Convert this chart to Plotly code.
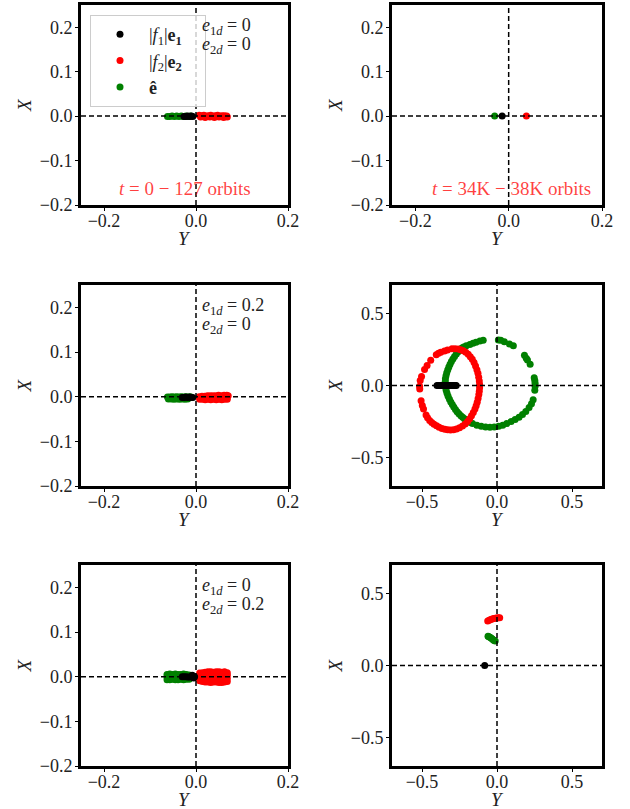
import plotly.graph_objects as go

# ---------------- data (Y, X) per panel ----------------
# panel 1: e1d = 0, e2d = 0, t = 0-127 orbits
p1_green_Y = [-0.062, -0.057, -0.052, -0.047, -0.042, -0.037, -0.032, -0.027, -0.022, -0.017, -0.012]
p1_green_X = [-0.001, -0.001, 0.000, -0.001, 0.000, -0.001, 0.000, -0.001, 0.000, -0.001, 0.000]
p1_black_Y = [-0.026, -0.022, -0.018, -0.014, -0.010, -0.007]
p1_black_X = [-0.001, -0.001, 0.000, -0.001, 0.000, -0.001]
p1_red_Y = [0.007, 0.012, 0.017, 0.022, 0.027, 0.032, 0.037, 0.042, 0.047, 0.052, 0.057, 0.062, 0.067,
            0.010, 0.020, 0.030, 0.040, 0.050, 0.060, 0.068]
p1_red_X = [0.002, 0.001, 0.002, 0.000, 0.001, 0.002, 0.000, 0.001, 0.002, 0.000, 0.001, 0.001, 0.000,
            -0.002, -0.003, -0.002, -0.003, -0.002, -0.003, -0.002]

# panel 2: e1d = 0, e2d = 0, t = 34K-38K orbits
p2_green_Y = [-0.030]
p2_green_X = [0.000]
p2_black_Y = [-0.014]
p2_black_X = [0.000]
p2_red_Y = [0.038]
p2_red_X = [0.000]

# panel 3: e1d = 0.2, e2d = 0
p3_green_Y = [-0.062, -0.057, -0.052, -0.047, -0.042, -0.037, -0.032, -0.027, -0.022, -0.017, -0.012,
              -0.060, -0.054, -0.048, -0.042, -0.036, -0.030, -0.024, -0.018]
p3_green_X = [-0.001, -0.001, 0.000, -0.001, 0.000, -0.001, 0.000, -0.001, 0.000, -0.001, 0.000,
              -0.005, -0.005, -0.006, -0.005, -0.006, -0.005, -0.006, -0.005]
p3_black_Y = [-0.030, -0.026, -0.022, -0.018, -0.014, -0.010, -0.007]
p3_black_X = [-0.002, -0.002, -0.001, -0.002, -0.001, -0.002, -0.002]
p3_red_Y = [0.007, 0.013, 0.019, 0.025, 0.031, 0.037, 0.043, 0.049, 0.055, 0.061, 0.067, 0.070,
            0.008, 0.014, 0.020, 0.026, 0.032, 0.038, 0.044, 0.050, 0.056, 0.062, 0.068]
p3_red_X = [0.000, 0.001, 0.001, 0.002, 0.002, 0.002, 0.002, 0.003, 0.002, 0.003, 0.003, 0.002,
            -0.006, -0.006, -0.007, -0.006, -0.007, -0.006, -0.007, -0.006, -0.007, -0.006, -0.006]

# panel 4: e1d = 0.2, e2d = 0, late times
p4_green_Y = [0.065, 0.038, 0.011, -0.018, -0.047, -0.076, -0.105, -0.134, -0.163, -0.177, -0.190,
              -0.204, -0.217, -0.229, -0.241, -0.254, -0.266, -0.277, -0.288, -0.298, -0.308, -0.317,
              -0.326, -0.333, -0.339, -0.343, -0.346, -0.345, -0.344, -0.340, -0.335, -0.328, -0.321,
              -0.313, -0.304, -0.294, -0.283, -0.271, -0.259, -0.247, -0.234, -0.222,
              -0.205, -0.181, -0.160, -0.140, -0.114, -0.092, 0.009, 0.025, 0.049, 0.083, 0.109,
              0.183, 0.195, 0.203, 0.221, 0.248, 0.252, 0.254, 0.254, 0.252, 0.241, 0.230, 0.214,
              0.192, 0.170, 0.147, 0.121, 0.094]
p4_green_X = [-0.265, -0.277, -0.284, -0.289, -0.291, -0.289, -0.284, -0.277, -0.265, -0.258, -0.251,
              -0.242, -0.232, -0.222, -0.211, -0.197, -0.183, -0.167, -0.150, -0.133, -0.115, -0.095,
              -0.075, -0.054, -0.033, -0.013, 0.007, 0.027, 0.047, 0.068, 0.089, 0.109, 0.129,
              0.148, 0.167, 0.185, 0.202, 0.219, 0.235, 0.248, 0.261, 0.268,
              0.276, 0.286, 0.294, 0.302, 0.310, 0.316, 0.317, 0.315, 0.305, 0.289, 0.277,
              0.211, 0.190, 0.178, 0.148, 0.054, 0.035, 0.015, -0.005, -0.033, -0.099, -0.127, -0.153,
              -0.181, -0.202, -0.221, -0.237, -0.251]
p4_red_Y = [-0.300, -0.280, -0.259, -0.242, -0.225, -0.208, -0.192, -0.178, -0.165, -0.153, -0.143,
            -0.134, -0.127, -0.122, -0.118, -0.116, -0.116, -0.118, -0.121, -0.126, -0.132, -0.139,
            -0.147, -0.158, -0.170, -0.182, -0.196, -0.212, -0.230, -0.250, -0.270, -0.290, -0.310,
            -0.329, -0.348, -0.367, -0.386, -0.403, -0.420, -0.435, -0.449,
            -0.463, -0.473, -0.490, -0.498, -0.506, -0.515, -0.516, -0.512, -0.503, -0.483, -0.466,
            -0.442, -0.405, -0.390, -0.375, -0.350, -0.330]
p4_red_X = [0.256, 0.256, 0.254, 0.249, 0.242, 0.231, 0.218, 0.201, 0.183, 0.160, 0.136,
            0.110, 0.085, 0.058, 0.031, 0.007, -0.016, -0.040, -0.063, -0.090, -0.117, -0.141,
            -0.164, -0.188, -0.211, -0.232, -0.251, -0.268, -0.282, -0.294, -0.303, -0.308, -0.310,
            -0.309, -0.305, -0.299, -0.291, -0.281, -0.270, -0.258, -0.244,
            -0.225, -0.206, -0.164, -0.140, -0.106, -0.025, -0.005, 0.034, 0.062, 0.112, 0.140,
            0.176, 0.215, 0.225, 0.231, 0.240, 0.247]
p4_black_Y = [-0.400, -0.390, -0.380, -0.370, -0.360, -0.350, -0.340, -0.330, -0.320, -0.310, -0.300,
              -0.290, -0.280, -0.272]
p4_black_X = [0.000] * len(p4_black_Y)

# panel 5: e1d = 0, e2d = 0.2
p5_green_Y = [-0.063, -0.057, -0.051, -0.045, -0.039, -0.033, -0.027, -0.021, -0.015,
              -0.063, -0.057, -0.051, -0.045, -0.039, -0.033, -0.027, -0.021, -0.015,
              -0.063, -0.057, -0.051, -0.045, -0.039, -0.033, -0.027, -0.021, -0.015]
p5_green_X = [0.005, 0.006, 0.005, 0.006, 0.005, 0.005, 0.006, 0.005, 0.004,
              -0.001, -0.001, 0.000, -0.001, 0.000, -0.001, 0.000, -0.001, -0.001,
              -0.007, -0.007, -0.006, -0.007, -0.007, -0.006, -0.007, -0.006, -0.006]
p5_black_Y = [-0.030, -0.026, -0.022, -0.018, -0.014, -0.010, -0.006, -0.003, -0.005, -0.008]
p5_black_X = [0.000, 0.000, 0.000, -0.001, -0.001, 0.000, 0.001, 0.000, -0.003, 0.003]
p5_red_Y = [0.008, 0.014, 0.020, 0.026, 0.032, 0.038, 0.044, 0.050, 0.056, 0.062, 0.068,
            0.008, 0.014, 0.020, 0.026, 0.032, 0.038, 0.044, 0.050, 0.056, 0.062, 0.068,
            0.008, 0.014, 0.020, 0.026, 0.032, 0.038, 0.044, 0.050, 0.056, 0.062, 0.068,
            0.008, 0.014, 0.020, 0.026, 0.032, 0.038, 0.044, 0.050, 0.056, 0.062, 0.068]
p5_red_X = [0.008, 0.009, 0.010, 0.011, 0.011, 0.010, 0.011, 0.011, 0.010, 0.011, 0.009,
            0.002, 0.003, 0.003, 0.004, 0.003, 0.003, 0.004, 0.003, 0.003, 0.004, 0.003,
            -0.004, -0.004, -0.005, -0.004, -0.005, -0.004, -0.005, -0.004, -0.005, -0.004, -0.004,
            -0.009, -0.011, -0.012, -0.012, -0.013, -0.012, -0.012, -0.013, -0.013, -0.012, -0.011]

# panel 6: e1d = 0, e2d = 0.2, late times
p6_green_Y = [-0.060, -0.054, -0.047, -0.040, -0.033, -0.026, -0.019, -0.012]
p6_green_X = [0.204, 0.200, 0.196, 0.191, 0.186, 0.180, 0.175, 0.170]
p6_red_Y = [-0.062, -0.052, -0.042, -0.032, -0.022, -0.012, -0.002, 0.008, 0.018]
p6_red_X = [0.310, 0.315, 0.320, 0.324, 0.327, 0.329, 0.331, 0.332, 0.333]
p6_black_Y = [-0.082]
p6_black_X = [0.000]

panels = [
    (p1_green_Y, p1_green_X, p1_red_Y, p1_red_X, p1_black_Y, p1_black_X),
    (p2_green_Y, p2_green_X, p2_red_Y, p2_red_X, p2_black_Y, p2_black_X),
    (p3_green_Y, p3_green_X, p3_red_Y, p3_red_X, p3_black_Y, p3_black_X),
    (p4_green_Y, p4_green_X, p4_red_Y, p4_red_X, p4_black_Y, p4_black_X),
    (p5_green_Y, p5_green_X, p5_red_Y, p5_red_X, p5_black_Y, p5_black_X),
    (p6_green_Y, p6_green_X, p6_red_Y, p6_red_X, p6_black_Y, p6_black_X),
]

small_range_Y = [-0.25, 0.2]
small_range_X = [-0.2, 0.25]
big_range = [-0.7, 0.7]
small_ticks_Y = [-0.2, 0.0, 0.2]
small_ticks_X = [-0.2, -0.1, 0.0, 0.1, 0.2]
big_ticks = [-0.5, 0.0, 0.5]

# trailing em spaces give the legend box its roomier width
legend_names = ["|<i>f</i><sub>1</sub>|<b>e<sub>1</sub></b>\u2003",
                "|<i>f</i><sub>2</sub>|<b>e<sub>2</sub></b>\u2003",
                "<b>ê</b>"]

W, H = 630, 809
FONT = "Liberation Serif"
TXT = "#222222"

# axes boxes in pixels: (left, right, top, bottom)
boxes = [
    (81, 288, 5, 205), (392, 602, 5, 205),
    (81, 288, 285, 486), (392, 602, 285, 486),
    (81, 288, 565, 766), (392, 602, 565, 766),
]

fig = go.Figure()
MS = 7
for i, (gY, gX, rY, rX, kY, kX) in enumerate(panels):
    n = i + 1
    xa = "x" if n == 1 else f"x{n}"
    ya = "y" if n == 1 else f"y{n}"
    show = n == 1
    fig.add_trace(go.Scatter(x=gY, y=gX, mode="markers", xaxis=xa, yaxis=ya,
                             marker=dict(color="#008000", size=MS, line_width=0),
                             name=legend_names[2], showlegend=show, legendrank=3))
    fig.add_trace(go.Scatter(x=rY, y=rX, mode="markers", xaxis=xa, yaxis=ya,
                             marker=dict(color="#ff0000", size=MS, line_width=0),
                             name=legend_names[1], showlegend=show, legendrank=2))
    fig.add_trace(go.Scatter(x=kY, y=kX, mode="markers", xaxis=xa, yaxis=ya,
                             marker=dict(color="#000000", size=MS, line_width=0),
                             name=legend_names[0], showlegend=show, legendrank=1))

layout = {}
for i, (l, r, t, b) in enumerate(boxes):
    n = i + 1
    big = n in (4, 6)
    sfx = "" if n == 1 else str(n)
    xr = big_range if big else small_range_Y
    yr = big_range if big else small_range_X
    xt = big_ticks if big else small_ticks_Y
    yt = big_ticks if big else small_ticks_X
    common = dict(showline=True, linewidth=3, linecolor="black", mirror=True,
                  ticks="outside", ticklen=3, tickwidth=1, tickcolor="black",
                  showgrid=False, zeroline=False, tickformat=".1f", automargin=False,
                  tickfont=dict(family=FONT, size=18, color=TXT))
    layout[f"xaxis{sfx}"] = dict(common, domain=[l / W, r / W], range=xr, tickvals=xt,
                                 anchor=f"y{sfx}", ticklabelstandoff=-6)
    layout[f"yaxis{sfx}"] = dict(common, domain=[1 - b / H, 1 - t / H], range=yr, tickvals=yt,
                                 anchor=f"x{sfx}", ticklabelstandoff=-1)

fig.update_layout(**layout)

# dashed zero lines and axis names
for i, (l, r, t, b) in enumerate(boxes):
    n = i + 1
    xref = "x" if n == 1 else f"x{n}"
    yref = "y" if n == 1 else f"y{n}"
    fig.add_shape(type="line", xref=f"{xref} domain", yref=yref, x0=0, x1=1, y0=0, y1=0,
                  line=dict(color="black", width=1.5, dash="5px,3px"))
    fig.add_shape(type="line", xref=xref, yref=f"{yref} domain", x0=0, x1=0, y0=0, y1=1,
                  line=dict(color="black", width=1.5, dash="5px,3px"))
    fig.add_annotation(xref=f"{xref} domain", yref=f"{yref} domain",
                       x=0.5, y=-33 / (b - t), xanchor="center", yanchor="middle",
                       showarrow=False, text="<i>Y</i>",
                       font=dict(family=FONT, size=19, color=TXT))
    fig.add_annotation(xref=f"{xref} domain", yref=f"{yref} domain",
                       x=-57 / (r - l), y=0.5, xanchor="center", yanchor="middle",
                       showarrow=False, text="<i>X</i>", textangle=-90,
                       font=dict(family=FONT, size=19, color=TXT))

# parameter labels
params = [(1, "0", "0"), (3, "0.2", "0"), (5, "0", "0.2")]
for n, e1, e2 in params:
    xref = "x" if n == 1 else f"x{n}"
    yref = "y" if n == 1 else f"y{n}"
    for k, (lab, val) in enumerate([("1", e1), ("2", e2)]):
        fig.add_annotation(xref=f"{xref} domain", yref=f"{yref} domain",
                           x=(200 - 81) / 207, y=1 - (21 + 19 * k) / 200,
                           xanchor="left", yanchor="middle", showarrow=False,
                           text=f"<i>e</i><sub>{lab}<i>d</i></sub> = {val}",
                           font=dict(family=FONT, size=18, color=TXT))

# time windows
fig.add_annotation(xref="x domain", yref="y domain", x=(185 - 81) / 207, y=1 - (188 - 5) / 200,
                   xanchor="center", yanchor="middle", showarrow=False,
                   text="<i>t</i> = 0 − 127 orbits",
                   font=dict(family=FONT, size=19, color="rgba(255,0,0,0.75)"))
fig.add_annotation(xref="x2 domain", yref="y2 domain", x=(511 - 392) / 210, y=1 - (188 - 5) / 200,
                   xanchor="center", yanchor="middle", showarrow=False,
                   text="<i>t</i> = 34K − 38K orbits",
                   font=dict(family=FONT, size=19, color="rgba(255,0,0,0.75)"))

fig.update_layout(
    width=W, height=H, margin=dict(l=0, r=0, t=0, b=0, autoexpand=False),
    paper_bgcolor="white", plot_bgcolor="white",
    showlegend=True,
    legend=dict(x=90 / W, y=1 - 15 / H, xanchor="left", yanchor="top",
                bgcolor="rgba(255,255,255,0.8)", bordercolor="#cccccc", borderwidth=1,
                font=dict(family=FONT, size=18, color=TXT), itemwidth=48,
                tracegroupgap=0),
)

fig.write_html("out.html")
